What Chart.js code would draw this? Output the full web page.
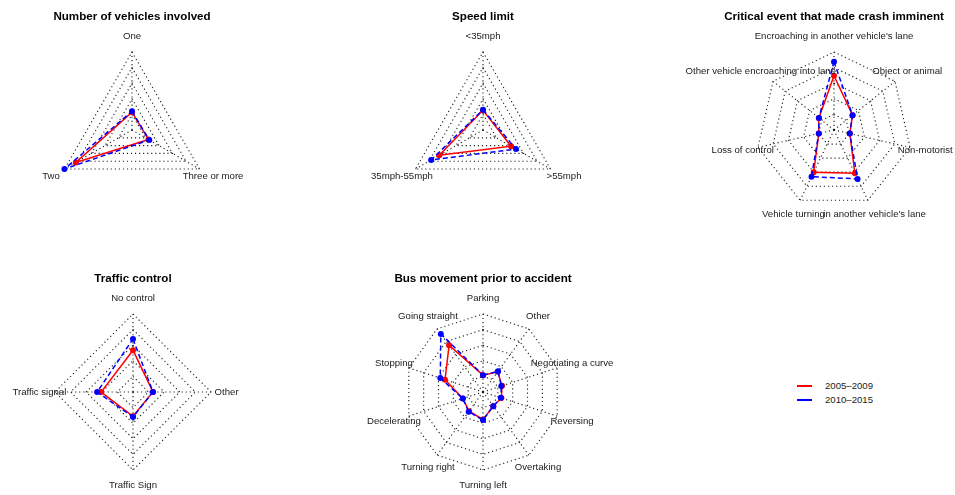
<!DOCTYPE html>
<html><head><meta charset="utf-8">
<script src="https://cdn.jsdelivr.net/npm/chart.js@4/dist/chart.umd.min.js"></script>
<style>
html,body{margin:0;padding:0;background:#fff;width:955px;height:495px;overflow:hidden;position:relative;font-family:'Liberation Sans',Arial,sans-serif}
canvas{position:absolute}
.leg{position:absolute;font-size:9.6px;line-height:12px;color:#222;white-space:nowrap}
.sw{position:absolute;height:2px;width:15px}
</style></head>
<body>
<script>
// ---- data (values normalised: 0 = innermost ring, 1 = outer ring), listed counter-clockwise from top as in the original
const seriesNames = ["2005\u20132009", "2010\u20132015"];
const seriesColors = ["#ff0000", "#0000ff"];

const vehiclesTitle = "Number of vehicles involved";
const vehiclesLabels = ["One", "Two", "Three or more"];
const vehicles2005 = [0.035, 0.79, 0.055];
const vehicles2010 = [0.05, 1.0, 0.07];

const speedTitle = "Speed limit";
const speedLabels = ["<35mph", "35mph-55mph", ">55mph"];
const speed2005 = [0.065, 0.56, 0.27];
const speed2010 = [0.075, 0.71, 0.36];

const eventTitle = "Critical event that made crash imminent";
const eventLabels = ["Encroaching in another vehicle's lane", "Other vehicle encroaching into lane", "Loss of control", "Vehicle turning", "in another vehicle's lane", "Non-motorist", "Object or animal"];
const event2005 = [0.62, 0.06, 0.0, 0.50, 0.52, 0.01, 0.13];
const event2010 = [0.845, 0.06, 0.0, 0.58, 0.62, 0.01, 0.13];

const controlTitle = "Traffic control";
const controlLabels = ["No control", "Traffic signal", "Traffic Sign", "Other"];
const control2005 = [0.42, 0.26, 0.14, 0.07];
const control2010 = [0.60, 0.325, 0.15, 0.07];

const busTitle = "Bus movement prior to accident";
const busLabels = ["Parking", "Going straight", "Stopping", "Decelerating", "Turning right", "Turning left", "Overtaking", "Reversing", "Negotiating a curve", "Other"];
const bus2005 = [0.02, 0.675, 0.39, 0.09, 0.13, 0.19, 0.03, 0.06, 0.07, 0.15];
const bus2010 = [0.02, 0.90, 0.47, 0.09, 0.14, 0.20, 0.03, 0.05, 0.06, 0.16];

// ---- layout
const FONT = "'Liberation Sans', Arial, Helvetica, sans-serif";
const CW = 340, CH = 260;

// original draws counter-clockwise; Chart.js draws clockwise
function toCW(a) { return [a[0]].concat(a.slice(1).reverse()); }

const labelPlugin = {
  id: 'fmsbLabels',
  afterDraw(chart) {
    const s = chart.scales.r, ctx = chart.ctx;
    ctx.save();
    ctx.font = "9.6px " + FONT;
    ctx.fillStyle = "#1a1a1a";
    ctx.textAlign = "center";
    ctx.textBaseline = "middle";
    chart.data.labels.forEach((lab, i) => {
      const p = s.getPointPosition(i, s.drawingArea * 1.2);
      ctx.fillText(lab, p.x, p.y);
    });
    ctx.restore();
  }
};

function makeRadar(cx, cy, title, labels, a, b) {
  const c = document.createElement('canvas');
  c.width = CW; c.height = CH;
  c.style.left = (cx - CW / 2) + 'px';
  c.style.top = (cy - CH / 2) + 'px';
  c.style.width = CW + 'px'; c.style.height = CH + 'px';
  document.body.appendChild(c);
  new Chart(c, {
    type: 'radar',
    data: {
      labels: toCW(labels),
      datasets: [
        { label: seriesNames[0], data: toCW(a), order: 2, borderColor: seriesColors[0], backgroundColor: seriesColors[0],
          pointBackgroundColor: seriesColors[0], pointBorderWidth: 0, pointRadius: 3, borderWidth: 1.5, fill: false, tension: 0 },
        { label: seriesNames[1], data: toCW(b), order: 1, borderColor: seriesColors[1], backgroundColor: seriesColors[1],
          pointBackgroundColor: seriesColors[1], pointBorderWidth: 0, pointRadius: 3, borderWidth: 1.5, borderDash: [5, 3], fill: false, tension: 0 }
      ]
    },
    options: {
      responsive: false, animation: false, devicePixelRatio: 1,
      layout: { padding: { top: 10, bottom: 52, left: 0, right: 0 } },
      plugins: {
        legend: { display: false }, tooltip: { enabled: false },
        title: { display: true, text: title, color: '#000', font: { family: FONT, size: 11.6, weight: 'bold', lineHeight: 1.2 },
                 padding: { top: 0, bottom: 28.08 } }
      },
      scales: {
        r: {
          min: -0.25, max: 1,
          ticks: { display: false, stepSize: 0.25 },
          pointLabels: { display: false },
          grid: { color: '#1e1e1e', lineWidth: 1.15 },
          border: { dash: [1.15, 2.9] },
          angleLines: { color: '#1e1e1e', lineWidth: 1.15, borderDash: [1.15, 2.9] }
        }
      }
    },
    plugins: [labelPlugin]
  });
}

makeRadar(132, 130, vehiclesTitle, vehiclesLabels, vehicles2005, vehicles2010);
makeRadar(483, 130, speedTitle, speedLabels, speed2005, speed2010);
makeRadar(834, 130, eventTitle, eventLabels, event2005, event2010);
makeRadar(133, 392, controlTitle, controlLabels, control2005, control2010);
makeRadar(483, 392, busTitle, busLabels, bus2005, bus2010);

// legend
seriesNames.forEach((n, i) => {
  const sw = document.createElement('div');
  sw.className = 'sw';
  sw.style.background = seriesColors[i];
  sw.style.left = '797px';
  sw.style.top = (385 + i * 14) + 'px';
  document.body.appendChild(sw);
  const t = document.createElement('div');
  t.className = 'leg';
  t.textContent = n;
  t.style.left = '825px';
  t.style.top = (380 + i * 14) + 'px';
  document.body.appendChild(t);
});
</script>
</body></html>
